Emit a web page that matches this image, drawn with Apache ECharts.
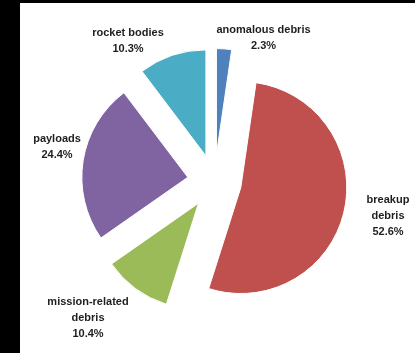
<!DOCTYPE html>
<html>
<head>
<meta charset="utf-8">
<script src="https://cdn.jsdelivr.net/npm/echarts@6/dist/echarts.min.js"></script>
<style>
  html, body { margin: 0; padding: 0; background: #000; width: 415px; height: 353px; overflow: hidden; }
  #chart { position: absolute; left: 20px; top: 3px; width: 395px; height: 350px; background: #fff; }
</style>
</head>
<body>
<div id="chart"></div>
<script>
// ---- data ----
const categories = ['anomalous debris', 'breakup debris', 'mission-related debris', 'payloads', 'rocket bodies'];
const labelTexts = ['anomalous debris', 'breakup\ndebris', 'mission-related\ndebris', 'payloads', 'rocket bodies'];
const shares = [2.3, 52.6, 10.4, 24.4, 10.3];

// ---- style / layout ----
const colors = ['#4F81BD', '#C0504D', '#9BBB59', '#8064A2', '#4BACC6'];
const labelCenters = [[243.5, 35], [368, 213], [68, 315], [37, 143.5], [108, 38]];

const chart = echarts.init(document.getElementById('chart'), null, { renderer: 'canvas' });
chart.setOption({
  animation: false,
  backgroundColor: 'transparent',
  graphic: categories.map((c, i) => ({
    type: 'text',
    x: labelCenters[i][0],
    y: labelCenters[i][1],
    z: 10,
    style: {
      text: labelTexts[i] + '\n' + shares[i].toFixed(1) + '%',
      fill: '#1e1e1e',
      fontFamily: 'Liberation Sans',
      fontWeight: 'bold',
      fontSize: 11,
      lineHeight: 16,
      align: 'center',
      verticalAlign: 'middle'
    }
  })),
  series: [{
    type: 'pie',
    center: [194.5, 178.5],
    radius: [0, 106],
    startAngle: 90,
    clockwise: true,
    selectedMode: 'multiple',
    selectedOffset: 27,
    avoidLabelOverlap: false,
    itemStyle: { borderColor: '#fff', borderWidth: 1 },
    emphasis: { disabled: true },
    label: { show: false },
    labelLine: { show: false },
    data: categories.map((c, i) => ({
      name: c,
      value: shares[i],
      selected: true,
      itemStyle: { color: colors[i] }
    }))
  }]
});
</script>
</body>
</html>
